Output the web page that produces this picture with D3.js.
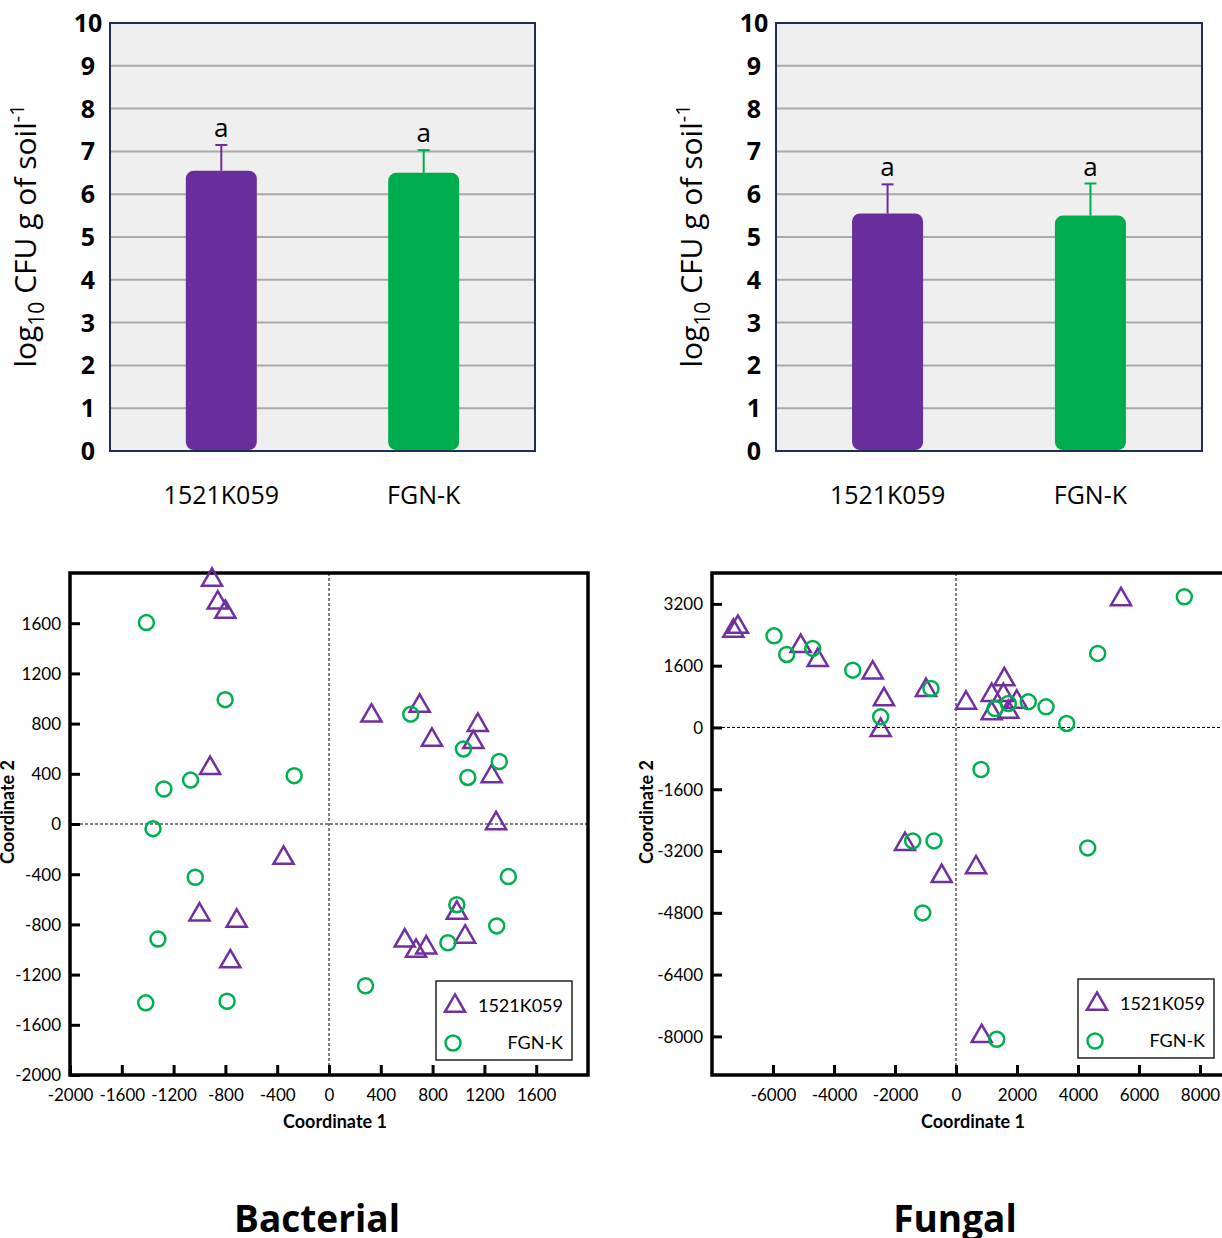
<!DOCTYPE html>
<html>
<head>
<meta charset="utf-8">
<script src="https://cdn.jsdelivr.net/npm/d3@7"></script>
<style>
  body { margin: 0; background: #fff; }
  svg { display: block; }
  text { font-family: "Open Sans", sans-serif; fill: #000; }
</style>
</head>
<body>
<div id="chart"></div>
<script>
// bar charts (log10 CFU g of soil-1)
const groups = ["1521K059", "FGN-K"];
const barColors = ["#6a2d9c", "#00ad4e"];
const bactCfu = [6.55, 6.5];
const bactErr = [0.6, 0.53];
const fungCfu = [5.55, 5.5];
const fungErr = [0.68, 0.75];
const sigLetters = ["a", "a"];
const cfuTicks = [0, 1, 2, 3, 4, 5, 6, 7, 8, 9, 10];

// PCoA coordinates, bacterial
const bact1521 = [
  [-903, 1945], [-859, 1763], [-800, 1689], [-918, 445],
  [328, 862], [700, 941], [795, 670], [1149, 788], [1115, 651], [1256, 379], [1290, 5],
  [-351, -271], [-1000, -722], [-713, -772], [-762, -1096],
  [585, -930], [672, -1012], [751, -985], [987, -709], [1051, -899]
];
const bactFgn = [
  [-1410, 1605], [-802, 991], [-1275, 279], [-1069, 350], [-269, 385], [-1359, -37],
  [631, 875], [1038, 598], [1072, 371], [1315, 498],
  [-1033, -424], [-1321, -917], [-1415, -1425], [-787, -1412],
  [1385, -419], [987, -643], [1295, -812], [918, -946], [282, -1289]
];
const bactTicksX = [-2000, -1600, -1200, -800, -400, 0, 400, 800, 1200, 1600];
const bactTicksY = [-2000, -1600, -1200, -800, -400, 0, 400, 800, 1200, 1600];

// PCoA coordinates, fungal
const fung1521 = [
  [-7300, 2500], [-7150, 2600], [-5092, 2106], [-4534, 1744], [-2732, 1415],
  [-2361, 725], [-2470, -70], [-984, 966], [5410, 3316], [328, 637],
  [1585, 1243], [1170, 837], [1552, 837], [1990, 663], [1170, 363], [1716, 404],
  [-1672, -3023], [-469, -3852], [656, -3627], [842, -7997]
];
const fungFgn = [
  [-5967, 2373], [-5551, 1891], [-4698, 2047], [-3387, 1484], [-2470, 275], [-820, 1010],
  [7486, 3383], [4645, 1917], [2371, 663], [2951, 534], [3629, 104], [1279, 492], [1716, 622],
  [820, -1088], [-1420, -2938], [-721, -2938], [-1092, -4803], [4318, -3119], [1334, -8075]
];
const fungTicksX = [-6000, -4000, -2000, 0, 2000, 4000, 6000, 8000];
const fungTicksY = [-8000, -6400, -4800, -3200, -1600, 0, 1600, 3200];

const purple = "#7030a0", green = "#00b050";

const svg = d3.select("#chart").append("svg")
  .attr("width", 1222).attr("height", 1238);

function drawBars(x0, x1, vals, errs) {
  const y = d3.scaleLinear().domain([0, 10]).range([451, 23]);
  const x = d3.scalePoint().domain(groups).range([x0, x1]).padding(0.55);
  const g = svg.append("g");
  const bw = 71;

  g.append("rect").attr("x", x0).attr("y", y(10))
    .attr("width", x1 - x0).attr("height", y(0) - y(10)).attr("fill", "#efefef");

  g.selectAll(".grid").data(cfuTicks.slice(1, 10)).enter().append("line")
    .attr("x1", x0).attr("x2", x1)
    .attr("y1", d => y(d)).attr("y2", d => y(d))
    .attr("stroke", "#a9a9a9").attr("stroke-width", 2);

  groups.forEach(function(k, i) {
    const cx = x(k);
    g.append("line").attr("x1", cx).attr("x2", cx)
      .attr("y1", y(vals[i])).attr("y2", y(vals[i] + errs[i]))
      .attr("stroke", barColors[i]).attr("stroke-width", 2);
    g.append("line").attr("x1", cx - 6).attr("x2", cx + 6)
      .attr("y1", y(vals[i] + errs[i])).attr("y2", y(vals[i] + errs[i]))
      .attr("stroke", barColors[i]).attr("stroke-width", 2);
    g.append("rect").attr("x", cx - bw / 2).attr("y", y(vals[i]))
      .attr("width", bw).attr("height", y(0) - y(vals[i]) - 1)
      .attr("rx", 8).attr("fill", barColors[i]);
    g.append("text").attr("x", cx).attr("y", y(vals[i] + errs[i]) - 8)
      .attr("text-anchor", "middle").style("font-size", "26px").text(sigLetters[i]);
    g.append("text").attr("x", cx).attr("y", 504)
      .attr("text-anchor", "middle").style("font-size", "25px").text(k);
  });

  g.append("rect").attr("x", x0).attr("y", y(10))
    .attr("width", x1 - x0).attr("height", y(0) - y(10))
    .attr("fill", "none").attr("stroke", "#1f2f4f").attr("stroke-width", 2);

  g.selectAll(".tl").data(cfuTicks).enter().append("text")
    .attr("x", x0 - 22).attr("y", d => y(d) + 9)
    .attr("text-anchor", "middle").style("font-size", "25px").style("font-weight", "bold")
    .text(d => d);

  const t = g.append("text")
    .attr("transform", "translate(" + (x0 - 74) + ",236) rotate(-90)")
    .attr("text-anchor", "middle").style("font-size", "30px");
  t.append("tspan").text("log");
  t.append("tspan").attr("dy", 8).style("font-size", "21px").text("10");
  t.append("tspan").attr("dy", -8).text(" CFU g of soil");
  t.append("tspan").attr("dy", -12).style("font-size", "20px").text("-1");
}

drawBars(110, 535, bactCfu, bactErr);
drawBars(776, 1202, fungCfu, fungErr);

function drawScatter(cfg) {
  const x = d3.scaleLinear().domain(cfg.xDomain).range(cfg.xRange);
  const y = d3.scaleLinear().domain(cfg.yDomain).range([1075, 573]);
  const g = svg.append("g");
  const L = cfg.xRange[0], R = cfg.xRange[1];

  // zero lines
  g.append("line").attr("x1", x(0)).attr("x2", x(0)).attr("y1", 573).attr("y2", 1075)
    .attr("stroke", "#000").attr("stroke-width", 1).attr("stroke-dasharray", "3,2");
  g.append("line").attr("x1", L).attr("x2", R).attr("y1", y(0)).attr("y2", y(0))
    .attr("stroke", "#000").attr("stroke-width", 1).attr("stroke-dasharray", "3,2");

  // frame
  g.append("rect").attr("x", L).attr("y", 573).attr("width", R - L).attr("height", 502)
    .attr("fill", "none").attr("stroke", "#000").attr("stroke-width", 3.5);

  const fmt = d => String(d);
  const ax = g.append("g").attr("transform", "translate(0,1075)")
    .call(d3.axisBottom(x).tickValues(cfg.xTicks).tickFormat(fmt).tickSize(-10).tickPadding(14));
  const ay = g.append("g").attr("transform", "translate(" + L + ",0)")
    .call(d3.axisLeft(y).tickValues(cfg.yTicks).tickFormat(fmt).tickSize(-10).tickPadding(9));
  [ax, ay].forEach(function(a) {
    a.select(".domain").remove();
    a.selectAll(".tick line").attr("stroke", "#000").attr("stroke-width", 3);
    a.selectAll(".tick text").style("font-size", "17px").style("font-family", "Lato, sans-serif");
  });
  ay.selectAll(".tick text").attr("dy", "0.35em");

  const tri = d3.symbol().type(d3.symbolTriangle).size(175);
  g.selectAll(".tri").data(cfg.tri).enter().append("path")
    .attr("d", tri)
    .attr("transform", d => "translate(" + x(d[0]) + "," + y(d[1]) + ")")
    .attr("fill", "none").attr("stroke", purple).attr("stroke-width", 2.5);
  g.selectAll(".circ").data(cfg.circ).enter().append("circle")
    .attr("cx", d => x(d[0])).attr("cy", d => y(d[1])).attr("r", 7.5)
    .attr("fill", "none").attr("stroke", green).attr("stroke-width", 2.5);

  // legend
  const lg = g.append("g").attr("transform", "translate(" + cfg.legend[0] + "," + cfg.legend[1] + ")");
  lg.append("rect").attr("width", 136).attr("height", 79)
    .attr("fill", "#fff").attr("stroke", "#222").attr("stroke-width", 1.5);
  lg.append("path").attr("d", tri).attr("transform", "translate(19,25)")
    .attr("fill", "none").attr("stroke", purple).attr("stroke-width", 2.5);
  lg.append("circle").attr("cx", 17).attr("cy", 62).attr("r", 7.5)
    .attr("fill", "none").attr("stroke", green).attr("stroke-width", 2.5);
  lg.append("text").attr("x", 127).attr("y", 31).attr("text-anchor", "end")
    .style("font-size", "18px").style("font-family", "Lato, sans-serif").text(groups[0]);
  lg.append("text").attr("x", 127).attr("y", 68).attr("text-anchor", "end")
    .style("font-size", "18px").style("font-family", "Lato, sans-serif").text(groups[1]);

  g.append("text").attr("x", cfg.titleX).attr("y", 1128).attr("text-anchor", "middle")
    .style("font-size", "18px").style("font-weight", "bold").style("font-family", "Lato, sans-serif")
    .text("Coordinate 1");
  g.append("text").attr("transform", "translate(" + cfg.ytitleX + ",812) rotate(-90)")
    .attr("text-anchor", "middle")
    .style("font-size", "18px").style("font-weight", "bold").style("font-family", "Lato, sans-serif")
    .text("Coordinate 2");

  g.append("text").attr("x", cfg.panelX).attr("y", 1232).attr("text-anchor", "middle")
    .style("font-size", "37px").style("font-weight", "bold")
    .text(cfg.panel);
}

drawScatter({
  xDomain: [-2000, 2000], xRange: [70, 588],
  yDomain: [-2000, 2000],
  xTicks: bactTicksX, yTicks: bactTicksY,
  tri: bact1521, circ: bactFgn,
  legend: [436, 981], titleX: 335, ytitleX: 14,
  panel: "Bacterial", panelX: 317
});

drawScatter({
  xDomain: [-8000, 9000], xRange: [712, 1230.5],
  yDomain: [-9000, 4000],
  xTicks: fungTicksX, yTicks: fungTicksY,
  tri: fung1521, circ: fungFgn,
  legend: [1078, 979], titleX: 973, ytitleX: 653,
  panel: "Fungal", panelX: 955
});
</script>
</body>
</html>
